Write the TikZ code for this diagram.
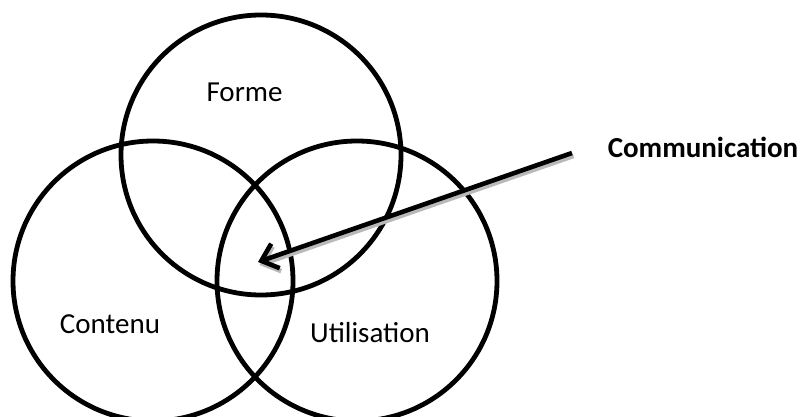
\documentclass[tikz,border=0pt]{standalone}
\usepackage{fontspec}
\setmainfont{Carlito}
\usepackage{tikz}
\usetikzlibrary{arrows.meta, positioning}
\usepackage{xcolor}
\definecolor{vennline}{RGB}{0, 0, 0}
\definecolor{shadowgray}{RGB}{185, 185, 185}

\begin{document}
\begin{tikzpicture}[
  x=1pt, y=1pt,
  ring/.style={circle, draw=vennline, line width=4.8pt, inner sep=0pt},
  lbl/.style={font=\fontsize{29}{34}\selectfont, anchor=base},
  arr/.style={-{Straight Barb[length=15pt, width=26pt]}, line width=4.6pt, color=vennline},
  shade/.style={-{Straight Barb[length=15pt, width=26pt]}, line width=4.6pt, color=shadowgray, transform canvas={shift={(1.5pt,-3pt)}}}
]
\useasboundingbox (0,0) rectangle (801,416);

\node[ring, minimum size=280pt] (forme) at (261,261) {};
\node[ring, minimum size=280pt] (contenu) at (153,135) {};
\node[ring, minimum size=280pt] (utilisation) at (357,135) {};

\node[lbl] (lforme) at (244.5,314) {Forme};
\node[lbl] (lcontenu) at (110,83) {Contenu};
\node[lbl] (lutil) at (370,74) {Utilisation};
\node[lbl, font=\fontsize{29}{34}\selectfont\bfseries] (comm) at (703,259) {Communication};

\coordinate (start) at (572,263);
\coordinate (tip) at (258,154);

\draw[shade] (start) -- (tip);
\draw[arr] (start) -- (tip);

\end{tikzpicture}
\end{document}
